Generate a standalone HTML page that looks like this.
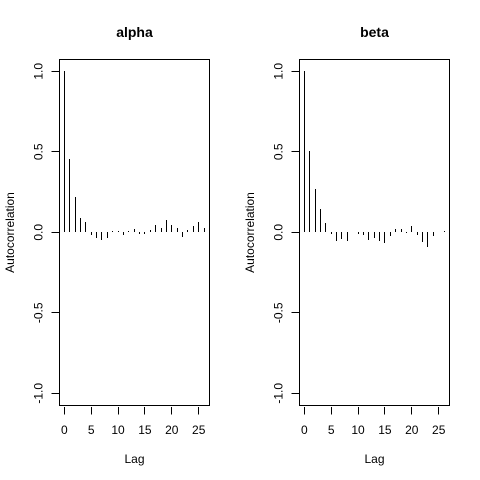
<!DOCTYPE html>
<html><head><meta charset="utf-8"><style>
html,body{margin:0;padding:0;background:#fff;}
svg{display:block;font-family:"Liberation Sans",Arial,sans-serif;}
</style></head><body>
<svg id="chart" width="480" height="480" viewBox="0 0 480 480"></svg>
<script>
const panelTitles = ["alpha", "beta"];
const lags = [0,1,2,3,4,5,6,7,8,9,10,11,12,13,14,15,16,17,18,19,20,21,22,23,24,25,26];
const alphaAcf = [1,0.453,0.222,0.089,0.064,-0.019,-0.035,-0.046,-0.035,0.010,0.010,-0.019,0.010,0.021,-0.010,-0.010,0.017,0.048,0.029,0.077,0.043,0.029,-0.027,0.017,0.041,0.066,0.029];
const betaAcf = [1,0.507,0.271,0.147,0.058,-0.010,-0.052,-0.041,-0.052,0.003,-0.010,-0.017,-0.048,-0.037,-0.054,-0.064,-0.021,0.021,0.021,-0.006,0.041,-0.017,-0.060,-0.089,-0.021,0.003,0.006];
const xTicks = [0,5,10,15,20,25];
const yTicks = [-1.0,-0.5,0.0,0.5,1.0];
const yTickLabels = ["-1.0","-0.5","0.0","0.5","1.0"];
const series = [alphaAcf, betaAcf];

const NS = "http://www.w3.org/2000/svg";
const svg = document.getElementById("chart");
function mk(tag, attrs, parent) {
  const e = document.createElementNS(NS, tag);
  for (const k in attrs) e.setAttribute(k, attrs[k]);
  parent.appendChild(e);
  return e;
}
const snap = v => Math.floor(v) + 0.5;
series.forEach((vals, p) => {
  const off = p * 240;
  const left = 59.5 + off, right = 209.5 + off, top = 59.5, bottom = 405.5;
  const xS = l => 64.3 + off + l * (198.7 - 64.3) / 25;
  const yS = v => 232.3 - v * 161;
  const g = mk("g", {}, svg);
  
  
  const t = mk("text", {x: (left + right) / 2, y: 37, "text-anchor": "middle", "font-size": "14", "font-weight": "bold"}, g);
  t.textContent = panelTitles[p];
  
  
  const box = mk("rect", {x: left, y: top, width: right - left, height: bottom - top, fill: "none", stroke: "#000", "stroke-width": 1}, g);
  
  
  lags.forEach((l, i) => {
    const b = mk("line", {x1: snap(xS(l)), x2: snap(xS(l)), y1: Math.round(yS(0)), y2: Math.round(yS(vals[i])), stroke: "#000", "stroke-width": 1}, g);
    
    
  });
  xTicks.forEach(v => {
    const tk = mk("line", {x1: snap(xS(v)), x2: snap(xS(v)), y1: 407, y2: 414.5, stroke: "#000"}, g);
    
    
    const tl = mk("text", {x: xS(v), y: 434, "text-anchor": "middle", "font-size": "12"}, g);
    tl.textContent = v;
    
    
  });
  yTicks.forEach((v, i) => {
    const tk = mk("line", {x1: 51.5 + off, x2: 59.5 + off, y1: snap(yS(v)), y2: snap(yS(v)), stroke: "#000"}, g);
    
    
    const tl = mk("text", {x: 0, y: 0, "text-anchor": "middle", "font-size": "12", transform: "translate(" + (42.5 + off) + "," + yS(v) + ") rotate(-90)"}, g);
    tl.textContent = yTickLabels[i];
    
    
  });
  const xl = mk("text", {x: (left + right) / 2, y: 463, "text-anchor": "middle", "font-size": "12"}, g);
  xl.textContent = "Lag";
  
  
  const yl = mk("text", {x: 0, y: 0, "text-anchor": "middle", "font-size": "12", transform: "translate(" + (14 + off) + "," + ((top + bottom) / 2) + ") rotate(-90)"}, g);
  yl.textContent = "Autocorrelation";
  
  
});
</script>
</body></html>
